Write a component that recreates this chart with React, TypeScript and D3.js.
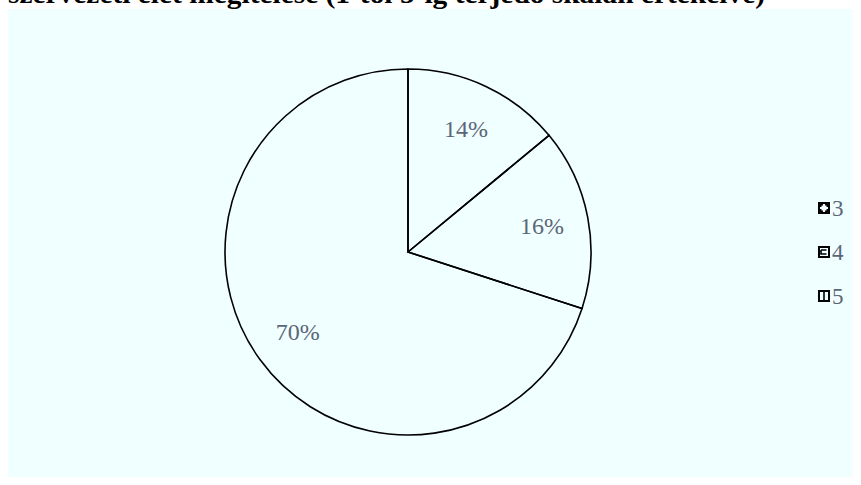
import React from "react";
import * as d3 from "d3";

const categories = ["3", "4", "5"];
const values = [14, 16, 70];
const labels = ["14%", "16%", "70%"];
const title = "szervezeti élet megítélése (1-től 5-ig terjedő skálán értékelve)";

const W = 861;
const H = 485;

export default function App() {
  const cx = 408;
  const cy = 252;
  const r = 183;
  const pie = d3.pie<number>().sort(null).value((d) => d);
  const arcs = pie(values);
  const arc = d3.arc<d3.PieArcDatum<number>>().innerRadius(0).outerRadius(r);
  const labelArc = d3.arc<d3.PieArcDatum<number>>().innerRadius(r * 0.745).outerRadius(r * 0.745);
  const legendY = d3.scalePoint<string>().domain(categories).range([208, 296]);

  const iconPath = (i: number) => {
    if (i === 0) return "M2,2h3v1.5h-1.5v1.5h-1.5zM10,2h-3v1.5h1.5v1.5h1.5zM2,10h3v-1.5h-1.5v-1.5h-1.5zM10,10h-3v-1.5h1.5v-1.5h1.5z";
    if (i === 1) return "M3,4h5.5M3,4v4h5.5";
    return "M6,1v10";
  };

  return (
    <div style={{ position: "absolute", left: 0, top: 0 }}>
      <svg width={W} height={H} style={{ display: "block" }}>
        <rect x={0} y={0} width={W} height={H} fill="#ffffff" />
        <rect x={8} y={9} width={845} height={468} fill="#f0ffff" />
        <text
          x={8}
          y={3}
          textLength={757}
          lengthAdjust="spacingAndGlyphs"
          fontFamily="'Liberation Serif', 'Times New Roman', serif"
          fontWeight="bold"
          fontSize={28}
          fill="#000"
        >
          {title}
        </text>
        <g transform={`translate(${cx},${cy})`}>
          {arcs.map((a, i) => (
            <path key={i} d={arc(a) as string} fill="none" stroke="#000" strokeWidth={1.6} strokeLinejoin="round" />
          ))}
          {arcs.map((a, i) => {
            const [x, y] = labelArc.centroid(a);
            return (
              <text
                key={"l" + i}
                x={x}
                y={y}
                textAnchor="middle"
                dominantBaseline="central"
                fontFamily="'Liberation Serif', 'Times New Roman', serif"
                fontSize={24}
                fill="#5c6677"
              >
                {labels[i]}
              </text>
            );
          })}
        </g>
        {categories.map((c, i) => {
          const y = legendY(c) as number;
          return (
            <g key={c} transform={`translate(818,${y - 6})`}>
              <rect x={1} y={1} width={10} height={10} fill="#f0ffff" stroke="#000" strokeWidth={2} />
              {i === 0 ? (
                <path d={iconPath(i)} fill="#000" />
              ) : (
                <path d={iconPath(i)} fill="none" stroke="#000" strokeWidth={1.6} />
              )}
              <text
                x={14}
                y={6}
                dominantBaseline="central"
                fontFamily="'Liberation Serif', 'Times New Roman', serif"
                fontSize={23}
                fill="#5c6677"
              >
                {c}
              </text>
            </g>
          );
        })}
      </svg>
    </div>
  );
}
